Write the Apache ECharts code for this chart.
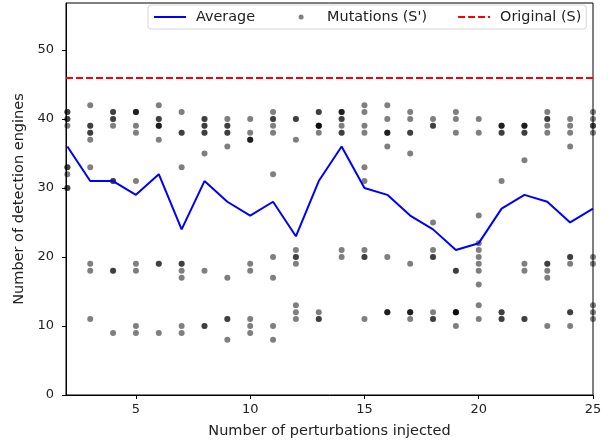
<!DOCTYPE html>
<html>
<head>
<meta charset="utf-8">
<script src="https://cdn.jsdelivr.net/npm/echarts@6/dist/echarts.min.js"></script>
<style>
    html, body {margin: 0; padding: 0; background: #fff;}
    #main {width: 608px; height: 444px;}
</style>
</head>
<body>
<div id="main"></div>
<script>
// 扰动数量
var perturbations = [2, 3, 4, 5, 6, 7, 8, 9, 10, 11, 12, 13, 14, 15, 16, 17, 18, 19, 20, 21, 22, 23, 24, 25];
// 平均检测引擎数
var average = [36, 31, 31, 29, 32, 24, 31, 28, 26, 28, 23, 31, 36, 30, 29, 26, 24, 21, 22, 27, 29, 28, 25, 27];
// 原始样本检测数
var original = 46;
// 每个扰动数量下的变体检测数 (S')
var mutations = [
    [41, 41, 40, 40, 39, 33, 33, 32, 30, 30],
    [42, 39, 39, 38, 38, 37, 33, 19, 18, 11],
    [41, 41, 40, 40, 39, 31, 31, 18, 18, 9],
    [41, 41, 41, 39, 38, 31, 19, 18, 10, 9],
    [42, 40, 40, 39, 39, 39, 37, 19, 19, 9],
    [41, 38, 38, 33, 19, 19, 18, 17, 10, 9],
    [40, 40, 39, 39, 38, 38, 35, 18, 10, 10],
    [40, 39, 39, 38, 38, 36, 17, 11, 11, 8],
    [40, 38, 37, 37, 37, 19, 18, 11, 10, 9],
    [41, 40, 40, 39, 38, 32, 20, 17, 10, 8],
    [40, 40, 37, 21, 20, 20, 19, 13, 12, 11],
    [41, 41, 39, 39, 39, 39, 38, 12, 11, 11],
    [41, 41, 41, 40, 40, 39, 38, 38, 21, 20],
    [42, 41, 39, 38, 33, 31, 21, 20, 20, 11],
    [42, 40, 38, 38, 38, 36, 20, 12, 12, 12],
    [41, 40, 38, 38, 35, 19, 12, 12, 12, 11],
    [40, 39, 39, 25, 21, 20, 20, 12, 11, 11],
    [41, 40, 38, 18, 18, 12, 12, 12, 12, 10],
    [40, 38, 26, 22, 21, 20, 19, 18, 16, 13, 11],
    [39, 39, 39, 38, 38, 31, 12, 12, 11, 11],
    [39, 39, 39, 38, 38, 34, 19, 18, 11, 11],
    [41, 40, 40, 39, 38, 19, 19, 18, 17, 10],
    [40, 39, 38, 36, 20, 20, 19, 12, 12, 10],
    [41, 40, 39, 39, 38, 20, 19, 13, 12, 11]
];
var xTicks = [5, 10, 15, 20, 25];
var yTicks = [0, 10, 20, 30, 40, 50];

var font = 'DejaVu Sans';
var avgData = [];
var mutData = [];
for (var i = 0; i < perturbations.length; i++) {
    avgData.push([perturbations[i], average[i]]);
    for (var j = 0; j < mutations[i].length; j++) {
        mutData.push([perturbations[i], mutations[i][j]]);
    }
}

var chart = echarts.init(document.getElementById('main'));
var option = {
    animation: false,
    backgroundColor: '#fff',
    grid: {
        left: 66, right: 15, top: 3, bottom: 48,
        show: true, borderColor: '#000', borderWidth: 1
    },
    legend: {
        left: 148, top: 5,
        padding: [5, 5, 5, 5],
        itemGap: 30,
        itemWidth: 32,
        itemHeight: 5,
        borderColor: '#d6d6d6',
        borderWidth: 1,
        borderRadius: 3,
        backgroundColor: 'rgba(255,255,255,0.8)',
        textStyle: {fontFamily: font, fontSize: 14.4, color: '#222', padding: [0, 0, 0, 5]},
        data: [
            // 折线图例只要线, 不要中间的点
            {name: 'Average', itemStyle: {opacity: 0}},
            // 散点图例: 32 宽的框里居中一个小圆点
            {name: "Mutations (S')", icon: 'path://M0,0 M32,5 M13.5,2.5 a2.5,2.5 0 1,0 5,0 a2.5,2.5 0 1,0 -5,0'},
            {name: 'Original (S)', itemStyle: {opacity: 0}}
        ]
    },
    xAxis: {
        type: 'value',
        min: 1.94, max: 25,
        name: 'Number of perturbations injected',
        nameLocation: 'middle',
        nameGap: 29,
        nameTextStyle: {fontFamily: font, fontSize: 14.5, color: '#222'},
        splitLine: {show: false},
        axisLine: {lineStyle: {color: '#000', width: 1}},
        axisTick: {length: 4, lineStyle: {color: '#000'}, customValues: xTicks},
        axisLabel: {fontFamily: font, fontSize: 13, color: '#222', margin: 8, customValues: xTicks}
    },
    yAxis: {
        type: 'value',
        min: 0, max: 56.8,
        name: 'Number of detection engines',
        nameLocation: 'middle',
        nameGap: 34,
        nameTextStyle: {fontFamily: font, fontSize: 14.5, color: '#222'},
        splitLine: {show: false},
        axisLine: {show: true, lineStyle: {color: '#000', width: 1}},
        axisTick: {show: true, length: 4, lineStyle: {color: '#000'}, customValues: yTicks},
        axisLabel: {fontFamily: font, fontSize: 13, color: '#222', margin: 12, customValues: yTicks}
    },
    series: [
        {
            name: 'Average',
            type: 'line',
            data: avgData,
            symbol: 'none',
            itemStyle: {color: '#0000ff'},
            lineStyle: {color: '#0000ff', width: 2}
        },
        {
            name: "Mutations (S')",
            type: 'scatter',
            data: mutData,
            symbolSize: 6,
            itemStyle: {color: '#000', opacity: 0.5}
        },
        {
            name: 'Original (S)',
            type: 'line',
            data: [],
            symbol: 'none',
            itemStyle: {color: '#ff0000'},
            lineStyle: {color: '#ff0000', width: 2, type: [7, 3]},
            markLine: {
                silent: true,
                symbol: ['none', 'none'],
                label: {show: false},
                lineStyle: {color: '#ff0000', width: 2, type: [7, 3]},
                data: [{yAxis: original}]
            }
        }
    ]
};
chart.setOption(option);
</script>
</body>
</html>
